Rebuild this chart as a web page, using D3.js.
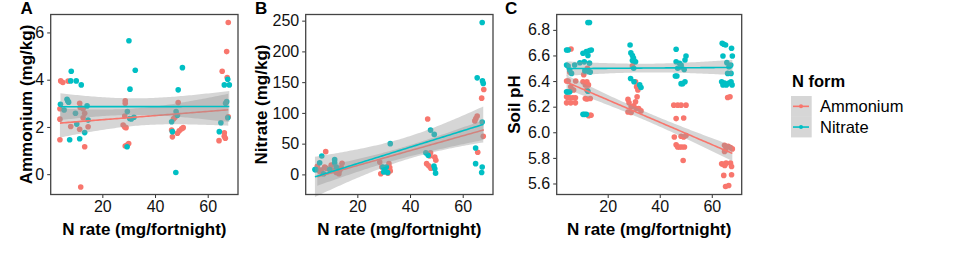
<!DOCTYPE html>
<html lang="en">

<head>
    <meta charset="utf-8">
    <title>N form: Ammonium, Nitrate, Soil pH</title>
    <script src="https://d3js.org/d3.v7.min.js"></script>
    <style>
        body { margin: 0; background: #fff; }
        svg { font-family: "Liberation Sans", Arial, sans-serif; }
        .tick text { font-size: 16px; fill: #111; }
        .tick line { stroke: #333; }
        .axis_title { font-size: 17px; font-weight: bold; fill: #000; }
        .panel_label { font-size: 17px; font-weight: bold; fill: #000; }
        .legend_text { font-size: 16.5px; fill: #000; }
    </style>
</head>

<body>
    <script type="text/javascript">

        //Consts
        const w = 957;
        const h = 253;
        const plotTop = 14.5;
        const plotBottom = 194.5;
        const red = "#F8766D";
        const teal = "#00BFC4";

        // N rate (mg/fortnight) vs value (jittered in x)
        const ammoniumA = [[4.2,3.95],[5.0,3.88],[3.9,2.77],[3.9,2.33],[3.9,1.46],[7.0,3.94],[8.0,2.02],[11.4,3.0],[11.6,2.82],[11.4,1.9],[12.7,2.77],[12.7,2.39],[13.3,1.16],[14.6,2.01],[11.8,-0.54],[13.3,2.58],
            [28.7,3.11],[28.7,3.0],[27.9,2.08],[28.5,2.0],[29.0,1.97],[28.7,1.19],[29.4,1.23],[30.0,1.3],[28.5,2.46],
            [48.8,3.03],[47.0,2.34],[47.6,2.41],[46.3,1.87],[46.6,1.58],[48.5,1.73],[49.2,1.84],[50.1,1.92],[50.7,1.97],
            [67.8,6.42],[67.2,5.19],[65.5,4.36],[67.4,4.09],[67.8,2.43],[66.3,1.75],[66.3,1.61],[66.7,1.52],[64.3,1.42]];
        const nitrateA = [[8.2,4.36],[4.1,2.96],[5.5,2.72],[6.6,3.17],[6.9,3.1],[7.2,3.05],[8.0,3.95],[10.1,3.95],[12.0,3.78],[7.6,1.46],[11.4,1.5],[13.3,1.76],[10.3,2.12],[9.8,2.58],[14.2,2.89],[14.6,2.29],
            [30.1,5.65],[32.5,4.4],[30.5,3.6],[29.5,2.65],[30.4,2.36],[31.0,2.34],[32.0,2.41],[29.4,1.16],
            [50.4,4.51],[48.8,3.57],[46.3,2.22],[48.0,2.65],[48.5,2.5],[46.6,1.8],[47.9,0.07],
            [67.6,4.02],[66.3,3.78],[68.2,3.78],[67.2,3.07],[66.8,3.0],[67.6,2.39],[65.0,2.18],[64.4,1.8]];

        const ammoniumB = [[8.0,37],[4.8,13],[5.7,5],[6.3,7],[7.6,12],[8.2,10],[10.1,15],[10.5,6.5],[13.3,6.5],[13.9,11],[14.2,18],[13.0,1],[12.0,3],
            [28.5,20],[29.3,12],[28.9,1],[32.0,17.5],[32.3,11],[32.5,5.5],[31.6,2],
            [46.7,90],[47.8,35],[47.5,30],[46.3,17.5],[47.1,14],[47.9,10],[49.4,28],[49.8,23],
            [68.0,138],[67.2,124],[65.5,95],[65.0,91],[64.6,87],[67.8,62],[65.7,36]];
        const nitrateB = [[4.2,7.7],[5.7,19],[6.5,30],[7.2,1],[11.4,24],[11.4,19],[12.0,12],[3.9,8],[9.5,8],
            [32.5,50],[29.7,12],[30.4,7.7],[31.0,12],[30.0,4],[31.5,3],
            [47.8,72],[49.2,65],[46.0,35],[46.9,31],[49.1,13.5],[49.4,9],[49.7,2],
            [67.4,247],[65.5,157],[67.5,152],[67.8,148],[67.4,85],[64.9,43],[64.9,17.5],[67.4,12],[67.2,3]];

        const ammoniumC = [[5.9,6.65],[4.2,6.4],[4.8,6.4],[7.7,6.4],[5.8,6.355],[6.3,6.335],[6.9,6.33],[4.2,6.277],[4.8,6.27],[5.4,6.27],[6.6,6.27],[7.6,6.27],[4.2,6.23],[5.8,6.23],[7.6,6.23],[5.4,6.47],
            [10.5,6.395],[11.4,6.37],[12.0,6.395],[12.6,6.37],[12.0,6.33],[11.4,6.264],[12.0,6.26],[13.3,6.264],[13.3,6.133],[12.7,6.13],[13.6,6.133],[10.8,6.45],[12.2,6.5],
            [27.8,6.257],[28.2,6.23],[29.0,6.199],[30.0,6.206],[30.9,6.186],[31.9,6.186],[32.8,6.167],[27.8,6.159],[29.0,6.155],[30.7,6.395],[31.1,6.355],[31.6,6.33],[31.3,6.277],[30.7,6.238],[29.5,6.52],
            [45.4,6.212],[46.9,6.212],[48.2,6.212],[50.1,6.212],[46.3,6.107],[49.2,6.112],[45.6,5.963],[48.2,5.969],[49.2,5.963],[50.1,5.974],[46.3,5.903],[46.9,5.885],[47.6,5.885],[48.5,5.885],[49.5,5.885],[49.0,5.78],
            [66.1,6.272],[67.0,6.277],[64.9,5.898],[66.3,5.89],[67.2,5.88],[67.9,5.87],[65.3,5.86],[64.9,5.85],[63.8,5.754],[64.4,5.749],[65.0,5.741],[65.5,5.759],[67.2,5.759],[67.6,5.733],[64.6,5.663],[67.6,5.668],[65.3,5.576],[66.5,5.584]];
        const nitrateC = [[13.0,6.857],[12.4,6.857],[4.2,6.643],[4.8,6.643],[10.5,6.617],[11.8,6.63],[13.0,6.638],[13.7,6.643],[4.2,6.525],[4.8,6.518],[7.3,6.525],[9.3,6.543],[11.0,6.55],[12.4,6.6],[13.0,6.54],[5.4,6.486],[6.1,6.46],[11.2,6.48],[12.6,6.475],[13.3,6.47],[4.2,6.316],[4.8,6.316],[5.4,6.316],[12.4,6.32],[10.5,6.14],[11.1,6.14],[11.8,6.14],
            [28.6,6.682],[28.9,6.62],[29.5,6.6],[29.9,6.58],[30.1,6.56],[30.7,6.55],[29.5,6.56],[28.8,6.42],[30.1,6.395],[32.3,6.37],[32.8,6.35],[30.0,6.5],
            [46.3,6.649],[46.3,6.551],[47.6,6.539],[48.2,6.525],[49.7,6.565],[50.1,6.596],[46.9,6.5],[48.2,6.51],[49.4,6.49],[46.0,6.44],[46.6,6.44],[48.2,6.38],[48.8,6.38],[49.7,6.395],
            [64.0,6.696],[64.6,6.688],[65.3,6.682],[67.6,6.656],[64.3,6.596],[67.9,6.596],[65.8,6.544],[67.3,6.525],[66.6,6.512],[66.1,6.46],[67.4,6.46],[63.8,6.395],[64.3,6.37],[64.9,6.385],[65.6,6.37],[66.6,6.385],[67.4,6.395],[67.8,6.37]];

        // ticks and labels
        const xTicks = [20, 40, 60];
        const yTicksA = [0, 2, 4, 6];
        const yTicksB = [0, 50, 100, 150, 200, 250];
        const yTicksC = [5.6, 5.8, 6.0, 6.2, 6.4, 6.6, 6.8];
        const forms = ["Ammonium", "Nitrate"];

        const panels = [
            { label: "A", left: 50.7, right: 238, yDomain: [-0.86, 6.76], yTicks: yTicksA, fmt: d3.format("d"), title: "Ammonium (mg/kg)", titleX: 32, labelX: 20.5, data: [ammoniumA, nitrateA] },
            { label: "B", left: 305.7, right: 493, yDomain: [-32.7, 260], yTicks: yTicksB, fmt: d3.format("d"), title: "Nitrate (mg/kg)", titleX: 266.5, labelX: 255, data: [ammoniumB, nitrateB] },
            { label: "C", left: 556.7, right: 741.7, yDomain: [5.514, 6.92], yTicks: yTicksC, fmt: d3.format(".1f"), title: "Soil pH", titleX: 520, labelX: 505, data: [ammoniumC, nitrateC] }
        ];

        //linear fit with 95% confidence band (like geom_smooth(method = "lm"))
        function lmFit(pts) {
            const n = pts.length;
            const mx = d3.mean(pts, d => d[0]);
            const my = d3.mean(pts, d => d[1]);
            const sxx = d3.sum(pts, d => (d[0] - mx) ** 2);
            const sxy = d3.sum(pts, d => (d[0] - mx) * (d[1] - my));
            const b = sxy / sxx;
            const a = my - b * mx;
            const s = Math.sqrt(d3.sum(pts, d => (d[1] - a - b * d[0]) ** 2) / (n - 2));
            const t = 2.02;
            const ext = d3.extent(pts, d => d[0]);
            return d3.range(0, 81).map(i => {
                const x = ext[0] + (ext[1] - ext[0]) * i / 80;
                const y = a + b * x;
                const se = s * Math.sqrt(1 / n + (x - mx) ** 2 / sxx);
                return { x: x, y: y, lo: y - t * se, hi: y + t * se };
            });
        }

        //SVG
        const svg = d3.select("body")
            .append("svg")
            .attr("width", w)
            .attr("height", h);

        const colors = [red, teal];

        panels.forEach(p => {
            const xScale = d3.scaleLinear()
                .domain([0.4, 71.5])
                .range([p.left, p.right]);

            const yScale = d3.scaleLinear()
                .domain(p.yDomain)
                .range([plotBottom, plotTop]);

            const g = svg.append("g");

            //points
            p.data.forEach((pts, i) => {
                g.selectAll(null)
                    .data(pts)
                    .enter()
                    .append("circle")
                    .attr("cx", d => xScale(d[0]))
                    .attr("cy", d => yScale(d[1]))
                    .attr("r", 2.8)
                    .attr("fill", colors[i]);
            });

            //smooth: ribbon then line, per group
            p.data.forEach((pts, i) => {
                const fit = lmFit(pts);
                const area = d3.area()
                    .x(d => xScale(d.x))
                    .y0(d => yScale(d.lo))
                    .y1(d => yScale(d.hi));
                const line = d3.line()
                    .x(d => xScale(d.x))
                    .y(d => yScale(d.y));
                g.append("path")
                    .attr("d", area(fit))
                    .attr("fill", "#999999")
                    .attr("fill-opacity", 0.4);
                g.append("path")
                    .attr("d", line(fit))
                    .attr("fill", "none")
                    .attr("stroke", colors[i])
                    .attr("stroke-width", 1.6);
            });

            //axes
            const bottomAxis = d3.axisBottom(xScale)
                .tickValues(xTicks)
                .tickSize(3.5)
                .tickSizeOuter(0)
                .tickPadding(3);
            g.append("g")
                .attr("transform", "translate(0," + plotBottom + ")")
                .call(bottomAxis)
                .call(a => a.select(".domain").remove());

            const leftAxis = d3.axisLeft(yScale)
                .tickValues(p.yTicks)
                .tickFormat(p.fmt)
                .tickSize(3.5)
                .tickSizeOuter(0)
                .tickPadding(3);
            g.append("g")
                .attr("transform", "translate(" + p.left + ",0)")
                .call(leftAxis)
                .call(a => a.select(".domain").remove());

            g.selectAll("g[font-family]").attr("font-family", null).attr("font-size", null);

            //panel border
            g.append("rect")
                .attr("x", p.left)
                .attr("y", plotTop)
                .attr("width", p.right - p.left)
                .attr("height", plotBottom - plotTop)
                .attr("fill", "none")
                .attr("stroke", "#444")
                .attr("stroke-width", 1.3);

            //axis titles
            g.append("text")
                .attr("class", "axis_title")
                .attr("x", (p.left + p.right) / 2)
                .attr("y", 235)
                .attr("text-anchor", "middle")
                .text("N rate (mg/fortnight)");

            g.append("text")
                .attr("class", "axis_title")
                .attr("text-anchor", "middle")
                .attr("transform", "translate(" + p.titleX + "," + (plotTop + plotBottom) / 2 + ") rotate(-90)")
                .text(p.title);

            //panel label
            g.append("text")
                .attr("class", "panel_label")
                .attr("x", p.labelX)
                .attr("y", 14)
                .text(p.label);
        });

        //legend
        const legend = svg.append("g");
        legend.append("text")
            .attr("x", 792)
            .attr("y", 87)
            .attr("class", "legend_text")
            .attr("font-weight", "bold")
            .text("N form");

        forms.forEach((f, i) => {
            const ky = 96 + i * 20.7;
            legend.append("rect")
                .attr("x", 791)
                .attr("y", ky)
                .attr("width", 20.7)
                .attr("height", 20.7)
                .attr("fill", "#999999")
                .attr("fill-opacity", 0.4);
            legend.append("line")
                .attr("x1", 793)
                .attr("x2", 809)
                .attr("y1", ky + 10.35)
                .attr("y2", ky + 10.35)
                .attr("stroke", colors[i])
                .attr("stroke-width", 1.6);
            legend.append("circle")
                .attr("cx", 801)
                .attr("cy", ky + 10.35)
                .attr("r", 2)
                .attr("fill", colors[i]);
            legend.append("text")
                .attr("class", "legend_text")
                .attr("x", 820)
                .attr("y", ky + 16.3)
                .text(f);
        });

    </script>
</body>

</html>
